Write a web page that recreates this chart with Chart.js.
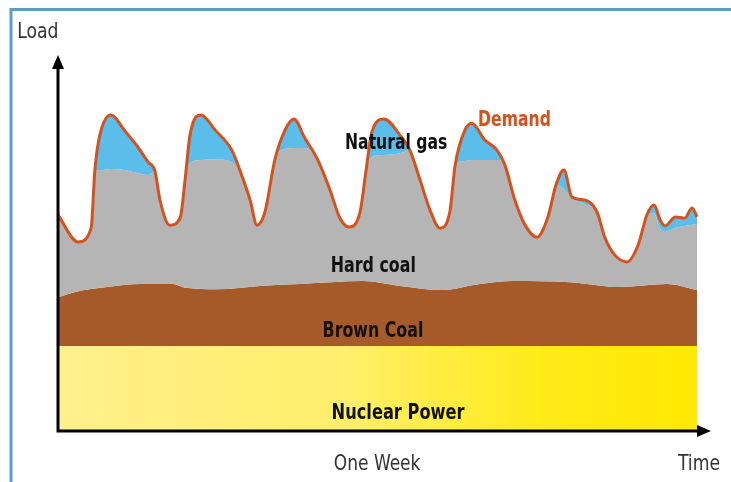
<!DOCTYPE html>
<html>
<head>
<meta charset="utf-8">
<title>Load over one week</title>
<script src="https://cdn.jsdelivr.net/npm/chart.js@4/dist/chart.umd.min.js"></script>
<style>
  html, body { margin: 0; padding: 0; background: #fff; }
  #wrap { position: relative; width: 731px; height: 482px; }
</style>
</head>
<body>
<div id="wrap"><canvas id="loadChart" width="731" height="482"></canvas></div>
<script>
// ========== DATA (hours of the week / load in % of axis height) ==========
const hours = [0, 5.3, 8.7, 9.7, 11.0, 13.9, 17.6, 20.8, 23.7, 25.5, 26.8, 29.4, 32.1, 33.4, 34.7, 37.6, 41.3, 45.7, 47.8, 50.5, 52.3, 54.4, 57.0, 59.7, 62.0, 64.9, 68.3, 71.5, 74.1, 76.5, 79.4, 81.0, 82.5, 85.7, 89.9, 92.5, 95.2, 97.8, 100.4, 103.0, 104.4, 107.0, 108.8, 112.2, 115.4, 117.5, 120.1, 122.8, 125.9, 128.8, 130.9, 133.0, 135.1, 138.5, 141.7, 143.8, 146.4, 149.6, 152.5, 154.8, 156.7, 158.3, 159.6, 162.3, 164.8, 166.7, 168.0];

// demand curve (top of natural gas)
const demand = [57.6, 50.4, 54.1, 69.6, 78.9, 84.3, 80.0, 76.0, 71.7, 69.3, 61.6, 54.9, 56.8, 66.9, 78.9, 84.3, 80.3, 74.9, 69.6, 61.6, 54.9, 58.4, 72.3, 80.3, 83.2, 78.1, 72.3, 64.3, 56.8, 54.4, 58.4, 69.6, 79.7, 83.2, 78.9, 74.9, 66.9, 58.9, 54.1, 58.4, 70.9, 80.3, 82.1, 77.6, 74.9, 70.9, 61.6, 54.9, 51.7, 57.1, 65.6, 69.6, 62.4, 61.6, 58.4, 51.5, 46.9, 45.1, 49.6, 57.6, 60.3, 56.3, 54.7, 57.1, 56.8, 59.5, 57.1];

// top of hard coal band
const hardCoalTop = [57.6, 50.4, 54.1, 69.3, 69.6, 69.9, 69.6, 68.8, 68.3, 69.3, 61.6, 54.9, 56.8, 66.9, 71.5, 72.3, 72.5, 71.7, 69.6, 61.6, 54.9, 58.4, 72.3, 75.2, 75.5, 75.5, 72.3, 64.3, 56.8, 54.4, 58.4, 69.6, 73.1, 73.6, 74.1, 74.9, 66.9, 58.9, 54.1, 58.4, 70.9, 72.0, 72.3, 72.3, 72.3, 70.9, 61.6, 54.9, 51.7, 57.1, 65.6, 64.5, 62.0, 60.5, 58.4, 51.5, 46.9, 45.1, 49.6, 57.3, 58.0, 54.1, 53.1, 54.2, 54.7, 55.0, 55.2];

// top of brown coal band
const brownHours = [0, 4.5, 12.9, 21.6, 30.2, 33.5, 41.8, 53.1, 63.6, 80.2, 89.9, 101.2, 110.9, 119.6, 134.6, 147.7, 160.1, 168.0];
const brownCoalTop = [35.7, 37.1, 38.4, 39.2, 39.2, 38.2, 37.8, 38.7, 39.2, 40.0, 38.7, 37.6, 39.2, 40.0, 39.7, 38.4, 39.2, 37.6];

// top of nuclear band (flat)
const nuclearHours = [0, 168];
const nuclearTop = [22.7, 22.7];

const pts = (xs, ys) => xs.map((x, i) => ({ x: x, y: ys[i] }));

const FONT = "'DejaVu Sans Condensed', 'Liberation Sans Narrow', Arial, sans-serif";

// ========== FRAME, AXES AND LABELS ==========
const decor = {
  id: "decor",
  beforeDraw(chart) {
    const c = chart.ctx;
    c.save();
    c.strokeStyle = "#5d9cc5";
    c.lineWidth = 3;
    c.beginPath();
    c.moveTo(11, 482);
    c.lineTo(11, 9.5);
    c.lineTo(731, 9.5);
    c.stroke();
    c.restore();
  },
  afterDatasetsDraw(chart) {
    const c = chart.ctx;
    const xs = chart.scales.x, ys = chart.scales.y;
    const a = chart.chartArea;
    const px = (h) => xs.getPixelForValue(h);
    const py = (v) => ys.getPixelForValue(v);

    // axes with arrow heads
    c.save();
    c.strokeStyle = "#000";
    c.fillStyle = "#000";
    c.lineWidth = 3;
    c.beginPath();
    c.moveTo(a.left, a.top + 10);
    c.lineTo(a.left, a.bottom);
    c.lineTo(a.right - 10, a.bottom);
    c.stroke();
    c.beginPath();
    c.moveTo(a.left, a.top - 1);
    c.lineTo(a.left - 6, a.top + 13);
    c.lineTo(a.left + 6, a.top + 13);
    c.closePath();
    c.fill();
    c.beginPath();
    c.moveTo(a.right + 1, a.bottom);
    c.lineTo(a.right - 13, a.bottom - 6);
    c.lineTo(a.right - 13, a.bottom + 6);
    c.closePath();
    c.fill();
    c.restore();

    // labels (narrowed horizontally like the original condensed face)
    const put = (txt, h, v, font, color, squeeze) => {
      c.save();
      c.font = font;
      c.fillStyle = color;
      c.textAlign = "center";
      c.textBaseline = "alphabetic";
      c.translate(px(h), py(v));
      c.scale(squeeze, 1);
      c.fillText(txt, 0, 0);
      c.restore();
    };
    const bold = "bold 22px " + FONT;
    const reg = "22px " + FONT;
    put("Natural gas", 88.9, 75.2, bold, "#111", 0.79);
    put("Demand", 120.0, 81.3, bold, "#d4521e", 0.79);
    put("Hard coal", 82.9, 42.4, bold, "#111", 0.8);
    put("Brown Coal", 82.8, 25.1, bold, "#111", 0.8);
    put("Nuclear Power", 89.4, 3.2, bold, "#111", 0.82);
    put("One Week", 83.9, -10.4, reg, "#333", 0.86);
    put("Time", 168.5, -10.4, reg, "#333", 0.87);
    put("Load", -5.3, 104.8, reg, "#333", 0.87);
  },
};

function nuclearGradient(context) {
  const chart = context.chart;
  const a = chart.chartArea;
  if (!a) return "#ffec40";
  const g = chart.ctx.createLinearGradient(a.left, 0, chart.scales.x.getPixelForValue(168), 0);
  g.addColorStop(0, "#fff08c");
  g.addColorStop(0.45, "#ffef6a");
  g.addColorStop(0.75, "#ffea1a");
  g.addColorStop(1, "#ffe800");
  return g;
}

// ========== CHART ==========
new Chart(document.getElementById("loadChart"), {
  type: "line",
  data: {
    datasets: [
      {
        label: "Natural gas",
        data: pts(hours, demand),
        borderColor: "#d4521e",
        borderWidth: 3,
        backgroundColor: "#5bbde9",
        fill: 1,
      },
      {
        label: "Hard coal",
        data: pts(hours, hardCoalTop),
        borderWidth: 0,
        borderColor: "rgba(0,0,0,0)",
        backgroundColor: "#b5b5b5",
        fill: 2,
      },
      {
        label: "Brown Coal",
        data: pts(brownHours, brownCoalTop),
        borderWidth: 0,
        borderColor: "rgba(0,0,0,0)",
        backgroundColor: "#a75a29",
        fill: 3,
      },
      {
        label: "Nuclear Power",
        data: pts(nuclearHours, nuclearTop),
        borderWidth: 0,
        borderColor: "rgba(0,0,0,0)",
        backgroundColor: nuclearGradient,
        fill: "origin",
      },
    ],
  },
  options: {
    responsive: false,
    animation: false,
    elements: {
      point: { radius: 0, hoverRadius: 0 },
      line: { cubicInterpolationMode: "monotone" },
    },
    layout: { padding: { left: 58, top: 56, right: 21, bottom: 51 } },
    plugins: {
      legend: { display: false },
      tooltip: { enabled: false },
    },
    scales: {
      x: { type: "linear", min: 0, max: 171.4, display: false },
      y: { min: 0, max: 100, display: false },
    },
  },
  plugins: [decor],
});
</script>
</body>
</html>
